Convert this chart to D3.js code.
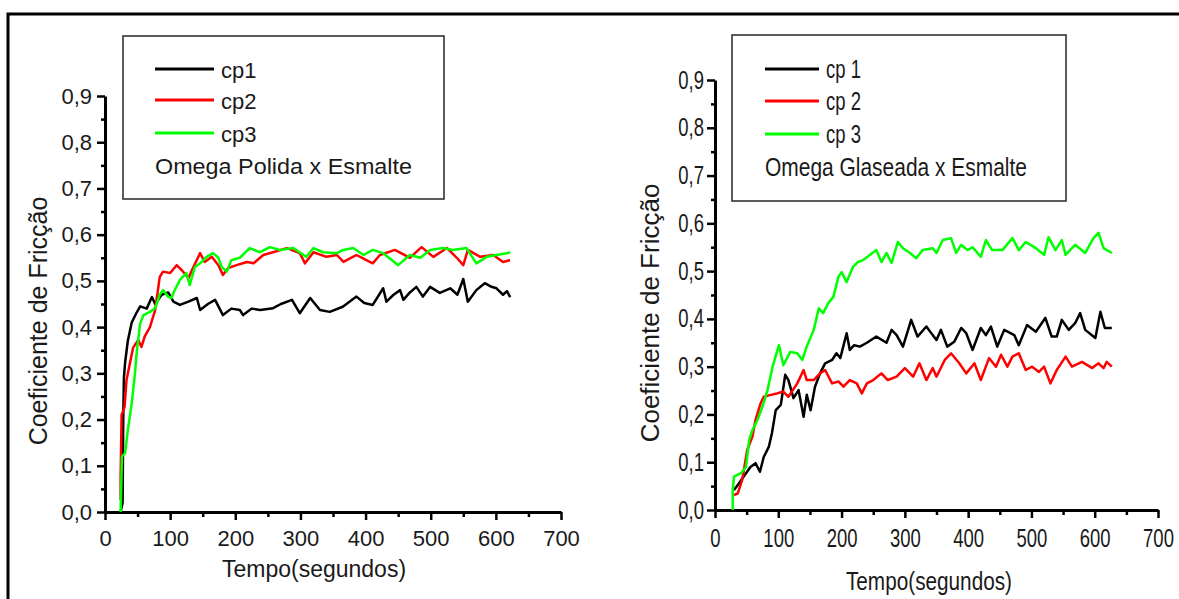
<!DOCTYPE html>
<html>
<head>
<meta charset="utf-8">
<style>
  body { margin: 0; background: #fff; }
  svg { position: absolute; top: 0px; left: 0px; font-family: "Liberation Sans", Arial, sans-serif; }
  .domain { stroke: #000; stroke-width: 3px; }
  .tick line { stroke: #000; stroke-width: 2.5px; }
  .tick text { fill: #1a1a1a; }
  .serie { fill: none; stroke-width: 2.5px; stroke-linejoin: round; }
</style>
<script src="https://cdnjs.cloudflare.com/ajax/libs/d3/7.8.5/d3.min.js"></script>
</head>
<body>
<svg width="1179" height="599"></svg>
<script>
// ---- data: [tempo (s), coeficiente] ----
var polidaCp1 = [[24,0.0],[27,0.02],[28,0.2],[29,0.29],[31,0.325],[35,0.37],[41,0.41],[48,0.43],[54,0.445],[64,0.44],[72,0.465],[77,0.45],[87,0.47],[97,0.475],[105,0.455],[115,0.448],[128,0.455],[141,0.463],[146,0.437],[158,0.45],[169,0.459],[181,0.426],[194,0.44],[207,0.437],[212,0.426],[225,0.44],[238,0.437],[258,0.441],[270,0.45],[287,0.459],[299,0.43],[315,0.463],[330,0.437],[345,0.433],[365,0.444],[386,0.466],[398,0.452],[411,0.448],[427,0.484],[432,0.455],[443,0.47],[453,0.48],[458,0.459],[468,0.475],[478,0.487],[488,0.466],[499,0.487],[514,0.474],[530,0.484],[541,0.47],[550,0.504],[557,0.455],[570,0.48],[583,0.495],[592,0.488],[601,0.484],[611,0.47],[617,0.478],[622,0.465]];
var polidaCp2 = [[24,0.026],[24,0.076],[25.5,0.21],[30,0.227],[33,0.285],[38,0.32],[43,0.355],[51,0.372],[56,0.357],[61,0.38],[69,0.4],[77,0.437],[84,0.508],[89,0.52],[100,0.517],[110,0.534],[118,0.523],[128,0.506],[135,0.528],[146,0.56],[153,0.541],[164,0.552],[174,0.534],[181,0.513],[189,0.528],[202,0.534],[218,0.541],[228,0.538],[243,0.556],[258,0.562],[279,0.571],[299,0.56],[307,0.538],[320,0.562],[340,0.552],[356,0.556],[366,0.541],[386,0.556],[411,0.538],[422,0.556],[445,0.567],[468,0.55],[486,0.573],[504,0.552],[525,0.571],[540,0.55],[550,0.534],[557,0.567],[576,0.552],[596,0.556],[611,0.541],[622,0.545]];
var polidaCp3 = [[24,0.0],[26,0.12],[31,0.128],[35,0.177],[41,0.235],[46,0.3],[49,0.35],[54,0.408],[59,0.426],[69,0.433],[77,0.441],[84,0.47],[89,0.48],[97,0.466],[102,0.463],[107,0.48],[115,0.502],[125,0.517],[130,0.491],[138,0.53],[146,0.538],[156,0.552],[166,0.56],[174,0.55],[179,0.53],[187,0.52],[194,0.545],[207,0.55],[222,0.571],[238,0.562],[253,0.573],[269,0.567],[289,0.571],[309,0.552],[320,0.571],[335,0.562],[356,0.56],[366,0.567],[381,0.571],[397,0.556],[411,0.567],[427,0.56],[450,0.534],[468,0.556],[484,0.55],[499,0.567],[519,0.571],[534,0.567],[555,0.571],[570,0.538],[586,0.552],[601,0.556],[617,0.56],[622,0.562]];

var glaseadaCp1 = [[30,0.042],[38,0.056],[49,0.077],[56,0.09],[64,0.098],[71,0.08],[77,0.111],[85,0.132],[90,0.161],[96,0.209],[104,0.22],[111,0.283],[116,0.272],[124,0.234],[132,0.251],[140,0.195],[145,0.241],[151,0.209],[158,0.258],[166,0.286],[174,0.307],[185,0.314],[192,0.328],[198,0.318],[208,0.37],[213,0.335],[220,0.345],[229,0.342],[240,0.35],[255,0.363],[271,0.35],[279,0.377],[287,0.366],[297,0.342],[310,0.398],[320,0.363],[334,0.384],[344,0.366],[350,0.356],[357,0.377],[367,0.342],[378,0.352],[389,0.381],[397,0.37],[407,0.335],[420,0.381],[428,0.366],[436,0.384],[446,0.342],[457,0.377],[473,0.366],[480,0.345],[493,0.387],[507,0.373],[522,0.402],[532,0.363],[540,0.363],[548,0.398],[559,0.377],[569,0.391],[577,0.412],[585,0.377],[601,0.36],[609,0.415],[616,0.381],[627,0.381]];
var glaseadaCp2 = [[30,0.031],[36,0.035],[43,0.063],[51,0.126],[59,0.153],[64,0.188],[72,0.223],[77,0.237],[88,0.241],[98,0.244],[108,0.248],[116,0.237],[130,0.265],[140,0.293],[145,0.272],[156,0.272],[166,0.286],[174,0.293],[185,0.265],[195,0.269],[203,0.258],[213,0.272],[224,0.265],[232,0.244],[240,0.265],[250,0.272],[263,0.286],[273,0.272],[287,0.279],[300,0.297],[313,0.279],[323,0.307],[334,0.272],[344,0.297],[350,0.279],[363,0.314],[373,0.328],[386,0.307],[397,0.286],[410,0.307],[420,0.272],[433,0.318],[444,0.3],[452,0.325],[462,0.3],[470,0.321],[480,0.328],[491,0.293],[501,0.3],[512,0.289],[520,0.3],[530,0.265],[540,0.293],[554,0.321],[564,0.3],[580,0.31],[596,0.297],[606,0.307],[614,0.297],[619,0.31],[627,0.3]];
var glaseadaCp3 = [[28,0.0],[28,0.042],[30,0.07],[41,0.077],[49,0.09],[54,0.147],[59,0.167],[67,0.188],[75,0.216],[83,0.251],[91,0.3],[101,0.345],[108,0.303],[119,0.331],[130,0.328],[138,0.314],[145,0.342],[156,0.377],[164,0.422],[171,0.412],[179,0.433],[187,0.446],[195,0.488],[200,0.498],[208,0.477],[218,0.509],[226,0.519],[234,0.523],[245,0.534],[255,0.544],[263,0.519],[271,0.538],[279,0.517],[289,0.561],[297,0.548],[308,0.538],[318,0.527],[328,0.544],[344,0.548],[350,0.538],[360,0.565],[373,0.569],[381,0.538],[389,0.555],[399,0.544],[407,0.55],[420,0.53],[428,0.565],[438,0.544],[454,0.544],[470,0.569],[480,0.544],[491,0.561],[507,0.548],[520,0.534],[527,0.571],[538,0.544],[548,0.565],[554,0.534],[569,0.555],[585,0.538],[598,0.569],[606,0.58],[614,0.548],[627,0.538]];

var xTicks = [0, 100, 200, 300, 400, 500, 600, 700];
var xMinor = [50, 150, 250, 350, 450, 550, 650];
var yTicks = [0, 0.1, 0.2, 0.3, 0.4, 0.5, 0.6, 0.7, 0.8, 0.9];
var yMinor = [0.05, 0.15, 0.25, 0.35, 0.45, 0.55, 0.65, 0.75, 0.85];
var serieColors = ["#000000", "#ff0000", "#00ff00"];
var leftNames = ["cp1", "cp2", "cp3"];
var rightNames = ["cp 1", "cp 2", "cp 3"];
var yTitle = "Coeficiente de Fricção";
var xTitle = "Tempo(segundos)";

var svg = d3.select("svg");

// outer frame (only top and left are visible)
svg.append("path").attr("d", "M8,599V14H1179").attr("fill", "none").attr("stroke", "#000").attr("stroke-width", 3);

var comma = function(d) { return d3.format(".1f")(d).replace(".", ","); };

// narrow a text horizontally around its own x position
function squeeze(sel, k) {
	if (k == 1) return;
	sel.each(function() {
		var t = d3.select(this), x0 = +t.attr("x") || 0;
		t.attr("x", x0 / k).attr("transform", "scale(" + k + ",1)");
	});
}

function panel(p) {
	var x = d3.scaleLinear().domain([0, 700]).range([p.x0, p.x1]);
	var y = d3.scaleLinear().domain([0, 0.9]).range([p.y0, p.y1]);
	var g = svg.append("g");

	// minor ticks first
	g.append("g").attr("transform", "translate(0," + p.y0 + ")")
		.call(d3.axisBottom(x).tickValues(xMinor).tickSize(5).tickFormat(""))
		.select(".domain").remove();
	g.append("g").attr("transform", "translate(" + p.x0 + ",0)")
		.call(d3.axisLeft(y).tickValues(yMinor).tickSize(4).tickFormat(""))
		.select(".domain").remove();

	g.append("g").attr("transform", "translate(0," + p.y0 + ")")
		.call(d3.axisBottom(x).tickValues(xTicks).tickSize(8).tickSizeOuter(0).tickPadding(p.xPad));
	g.append("g").attr("transform", "translate(" + p.x0 + ",0)")
		.call(d3.axisLeft(y).tickValues(yTicks).tickSize(8).tickSizeOuter(0).tickPadding(p.yPad).tickFormat(comma));
	g.selectAll(".tick text").attr("font-size", p.fs).attr("font-family", "Liberation Sans, Arial, sans-serif");
	squeeze(g.selectAll(".tick text"), p.k);

	var line = d3.line().x(function(d) { return x(d[0]); }).y(function(d) { return y(d[1]); });
	p.series.forEach(function(s, i) {
		g.append("path").datum(s).attr("class", "serie").attr("stroke", serieColors[i]).attr("d", line);
	});

	// titles
	var xt = g.append("text").attr("x", p.xtX).attr("y", p.xtY).attr("text-anchor", "middle")
		.attr("font-size", p.fsT).attr("fill", "#1a1a1a").text(xTitle);
	squeeze(xt, p.kT);
	g.append("text").attr("transform", "translate(" + p.ytX + "," + p.ytY + ") rotate(-90)")
		.attr("text-anchor", "middle").attr("font-size", p.fsY).attr("fill", "#1a1a1a").text(yTitle);

	// legend
	var lg = g.append("g");
	lg.append("rect").attr("x", p.box[0]).attr("y", p.box[1]).attr("width", p.box[2]).attr("height", p.box[3])
		.attr("fill", "none").attr("stroke", "#333").attr("stroke-width", 1.6);
	p.names.forEach(function(n, i) {
		lg.append("line").attr("x1", p.lx0).attr("x2", p.lx1).attr("y1", p.ly[i]).attr("y2", p.ly[i])
			.attr("stroke", serieColors[i]).attr("stroke-width", 3);
		var t = lg.append("text").attr("x", p.lx1 + 7).attr("y", p.ly[i] + 9).attr("font-size", p.fsL)
			.attr("fill", "#1a1a1a").text(n);
		squeeze(t, p.k);
	});
	lg.append("text").attr("x", p.lx0).attr("y", p.capY).attr("font-size", p.fsL).attr("fill", "#1a1a1a")
		.attr("textLength", p.capW).attr("lengthAdjust", "spacingAndGlyphs").text(p.caption);
}

panel({
	x0: 105, x1: 561, y0: 512, y1: 96,
	series: [polidaCp1, polidaCp2, polidaCp3],
	names: leftNames, caption: "Omega Polida x Esmalte",
	fs: 22, k: 1, kT: 1, xPad: 10, yPad: 5,
	fsT: 23, xtX: 314, xtY: 577, fsY: 25, ytX: 47, ytY: 321,
	box: [123, 36, 321, 163], lx0: 155, lx1: 214, ly: [69, 100, 133], fsL: 22, capY: 174, capW: 257
});

panel({
	x0: 715, x1: 1158, y0: 510, y1: 80,
	series: [glaseadaCp1, glaseadaCp2, glaseadaCp3],
	names: rightNames, caption: "Omega Glaseada x Esmalte",
	fs: 25, k: 0.74, kT: 0.83, xPad: 11, yPad: 3,
	fsT: 25, xtX: 929, xtY: 590, fsY: 26, ytX: 659, ytY: 313,
	box: [732, 35, 334, 166], lx0: 765, lx1: 819, ly: [69, 101, 134], fsL: 25, capY: 176, capW: 262
});
</script>
</body>
</html>
